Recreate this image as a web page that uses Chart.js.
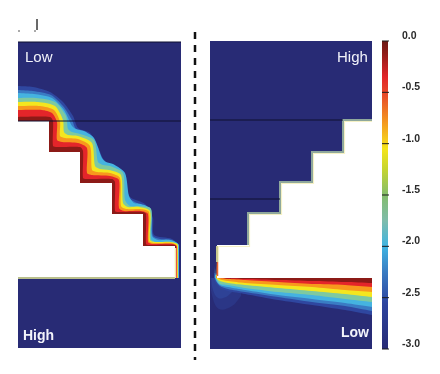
<!DOCTYPE html>
<html>
<head>
<meta charset="utf-8">
<title>Stair contours</title>
<script src="https://cdn.jsdelivr.net/npm/chart.js@4/dist/chart.umd.min.js"></script>
<style>
    html, body { margin: 0; padding: 0; background: #fff; }
    canvas { display: block; filter: blur(0.45px); }
</style>
</head>
<body>
<canvas id="stairChart" width="440" height="374"></canvas>
<script>
// Colour scale, dark red at 0 to navy at -3
const barValues = [0, -0.12, -0.35, -0.55, -0.8, -1.05, -1.25, -1.5, -1.75, -2.0, -2.25, -2.55, -3];
const barColors = ['#6b1a16', '#8f1c18', '#e2252a', '#e8522a', '#f49a20', '#f5e51b', '#c5d530', '#84bd6c', '#7fbcab', '#3fb4e2', '#3a7cc2', '#2d45a0', '#282b75'];
const tickValues = [0, -0.5, -1, -1.5, -2, -2.5, -3];
const tickLabels = ['0.0', '-0.5', '-1.0', '-1.5', '-2.0', '-2.5', '-3.0'];

// Iso-lines, outermost first
const bandColors = ['#2f47a0', '#3a7cc4', '#45b3e0', '#7ec9a0', '#f4e61f', '#f8981d', '#e4252a', '#8c1a17'];

const leftBands = [
    [[18,86],[33,87],[50,92],[63,102],[73,116],[78,128],[90,133],[98,147],[104,160],[117,170],[125,182],[130,197],[145,204],[153,218],[154,235],[172,239],[180,248],[179,278]],
    [[18,90],[33,91],[51,95],[63,106],[72,120],[76,129],[87,134],[96,148],[103,161],[115,169],[123,180],[127,197],[137,203],[149,210],[153,236],[160,239],[172,240],[179,246],[179,278]],
    [[18,93],[34,94],[52,98],[64,110],[72,126],[76,129],[84,131],[94,138],[102,158],[106,162],[113,164],[125,173],[129,196],[134,203],[141,204],[151,209],[152,236],[158,240],[170,240],[179,245],[179,278]],
    [[18,98],[36,98],[55,102],[66,116],[68,129],[72,132],[80,134],[94,140],[98,162],[103,165],[110,166],[123,173],[125,200],[130,206],[139,206],[151,209],[151,239],[156,242],[170,242],[178.5,245],[178,278]],
    [[18,102],[38,102],[55,106],[63,120],[64,132],[68,135],[78,136],[92,143],[95,166],[100,169],[109,170],[121,175],[123,203],[128,207],[139,207],[150,211],[150,240],[155,242],[171,242],[178,245],[178,278]],
    [[18,106],[40,106],[54,110],[60,122],[60,136],[65,138],[78,139],[90,146],[92,170],[97,172],[110,173],[120,178],[121,206],[126,209],[140,209],[149,212],[149,241],[154,243],[172,243],[177,246],[177.5,278]],
    [[18,110],[42,110],[52,113],[57,122],[57,140],[62,142],[78,143],[87,148],[87,173],[92,175],[110,176],[119,180],[119,208],[124,211],[141,211],[148,214],[148,242],[152,244],[173,244],[177,247],[177,278]],
    [[18,117],[50,117],[53,121],[53,146],[57,147],[80,147],[83,151],[83,178],[86,179],[112,179],[115,182],[115,211],[118,212],[143,212],[146,214],[146,244],[149,245],[175,245],[176,247],[176,278]]
];

const rightBands = [
    [[214,264],[213,273],[215,282],[220,288],[228,291],[245,294],[278,300],[312,305],[345,310],[372,315]],
    [[214.5,266],[214,274],[216,281],[220,286],[228,289],[245,292],[278,297],[312,302],[345,306],[372,311]],
    [[215,267],[214.5,275],[216.5,281],[220,285],[228,287],[245,290],[278,295],[312,299],[345,303],[372,307]],
    [[215.5,268],[215,275],[217,280],[220,284],[228,285],[245,288],[278,292],[312,295],[345,299],[372,302]],
    [[216,262],[215.5,275],[218,280],[228,283],[245,285],[278,288],[312,291],[345,294],[372,297]],
    [[216.5,262],[216,275],[219,279],[228,281],[245,283],[278,285],[312,287],[345,290],[372,292]],
    [[216.5,264],[216.5,276],[220,278],[228,279],[245,280],[278,282],[312,284],[345,285],[372,287]],
    [[221,278],[228,278.5],[245,279],[278,280],[312,281],[345,282],[372,283]]
];

const blobOuter = [[210,274],[212,295],[219,309],[232,306],[241,296]];
const blobInner = [[211,276],[213,290],[218,298],[226,297],[232,292]];

// White regions under the stairs
const leftStairs = [[18,121],[49,121],[49,152],[80,152],[80,183],[112,183],[112,214],[143,214],[143,246],[175,246],[175,278]];
const rightStairs = [[217,278],[217,245],[248,245],[248,213],[280,213],[280,182],[312,182],[312,152],[343,152],[343,120],[372,120]];
const rightGlow = [[218.5,262],[218.5,246.5],[249.5,246.5],[249.5,214.5],[281.5,214.5],[281.5,183.5],[313.5,183.5],[313.5,153.5],[344.5,153.5],[344.5,121.5],[372,121.5]];

const panelLeft = [[18,42],[181,42]];
const panelRight = [[210,41],[372,41]];
const leftFloor = [[18,278],[175,278]];
const darkLines = [
    [[18,121],[181,121]],
    [[18,42],[181,42]],
    [[210,120],[343,120]],
    [[210,199],[280,199]]
];
const divider = [[195,32],[195,360]];
const specks = [[[37,19],[37,30]], [[18,31],[20,31]], [[34,31],[36,31]]];
const notes = [
    { text: 'Low', x: 25, y: 62, font: 'normal 15px' },
    { text: 'High', x: 23, y: 340, font: 'bold 14px' },
    { text: 'High', x: 337, y: 62, font: 'normal 15px' },
    { text: 'Low', x: 341, y: 337, font: 'bold 14px' }
];

function pts(list) {
    return list.map(p => ({ x: p[0], y: p[1] }));
}

function area(list, color, bottom, tension) {
    return { data: pts(list), borderWidth: 0, borderColor: color, backgroundColor: color, fill: { value: bottom }, tension: tension || 0 };
}

function stroke(list, color, width, dash) {
    return { data: pts(list), borderColor: color, borderWidth: width, borderDash: dash || [], fill: false };
}

const navy = '#282b75';
const layers = [];
layers.push(area(panelLeft, navy, 348));
layers.push(area(panelRight, navy, 349));
leftBands.forEach((b, i) => layers.push(area(b, bandColors[i], 278, 0.25)));
layers.push(area(blobOuter, '#2b3686', 278, 0.4));
layers.push(area(blobInner, '#2e4296', 278, 0.4));
rightBands.forEach((b, i) => layers.push(area(b, bandColors[i], 278, 0.25)));
layers.push(area(leftStairs, '#ffffff', 278));
layers.push(area(rightStairs, '#ffffff', 278));
layers.push(stroke(leftFloor, '#b9bf8c', 2));
layers.push(stroke([[175.5,248],[175.5,278]], '#efe9a8', 1.5));
layers.push(stroke(rightGlow, '#f5f1c4', 1.2));
layers.push(stroke(rightStairs.slice(2), '#8fa89c', 2));
layers.push(stroke([[217,246],[217,262]], '#c9c98e', 2));
layers.push(stroke([[217.5,262],[217.5,276]], '#e8642a', 1.5));
darkLines.forEach(l => layers.push(stroke(l, '#0f1030', 1.2)));
layers.push(stroke(divider, '#111111', 2.5, [7, 6]));
specks.forEach(s => layers.push(stroke(s, '#555555', 1)));

// Colour bar on its own value axis
layers.push({
    data: barValues.map(v => ({ x: 385, y: v })),
    yAxisID: 'cbar',
    borderWidth: 6,
    fill: false,
    borderColor: function (ctx) {
        const scale = ctx.chart.scales.cbar;
        if (!scale) return '#000';
        const top = scale.getPixelForValue(0);
        const bottom = scale.getPixelForValue(-3);
        if (!isFinite(top) || !isFinite(bottom)) return '#000';
        const g = ctx.chart.ctx.createLinearGradient(0, top, 0, bottom);
        barValues.forEach((v, i) => g.addColorStop(-v / 3, barColors[i]));
        return g;
    }
});
tickValues.forEach(v => {
    layers.push({ data: [{ x: 382, y: v }, { x: 389, y: v }], yAxisID: 'cbar', borderColor: '#1c1c1c', borderWidth: 1, fill: false });
});

// Chart.js paints the first dataset last
layers.reverse();

const notesPlugin = {
    id: 'notes',
    afterDatasetsDraw(chart) {
        const c = chart.ctx;
        const sx = chart.scales.x;
        const sy = chart.scales.y;
        c.save();
        c.textBaseline = 'alphabetic';
        c.fillStyle = '#f2f3fa';
        notes.forEach(n => {
            c.font = n.font + ' "Liberation Sans", Arial, sans-serif';
            c.fillText(n.text, sx.getPixelForValue(n.x), sy.getPixelForValue(n.y));
        });
        // colour bar labels sit a little above their ticks
        c.fillStyle = '#2b2b2b';
        c.font = 'bold 10.5px "Liberation Sans", Arial, sans-serif';
        c.textBaseline = 'middle';
        tickValues.forEach((v, i) => {
            c.fillText(tickLabels[i], sx.getPixelForValue(402), chart.scales.cbar.getPixelForValue(v) - 5);
        });
        c.restore();
    }
};

new Chart(document.getElementById('stairChart'), {
    type: 'line',
    data: { datasets: layers },
    plugins: [notesPlugin],
    options: {
        responsive: false,
        animation: false,
        layout: { padding: 0 },
        elements: { point: { radius: 0 }, line: { borderCapStyle: 'butt' } },
        plugins: { legend: { display: false }, tooltip: { enabled: false }, title: { display: false } },
        scales: {
            x: { type: 'linear', min: 0, max: 440, display: false },
            y: { type: 'linear', min: 0, max: 374, reverse: true, display: false },
            cbar: { type: 'linear', position: 'left', min: -3 - 25 / 102.67, max: 41 / 102.67, display: false }
        }
    }
});
</script>
</body>
</html>
